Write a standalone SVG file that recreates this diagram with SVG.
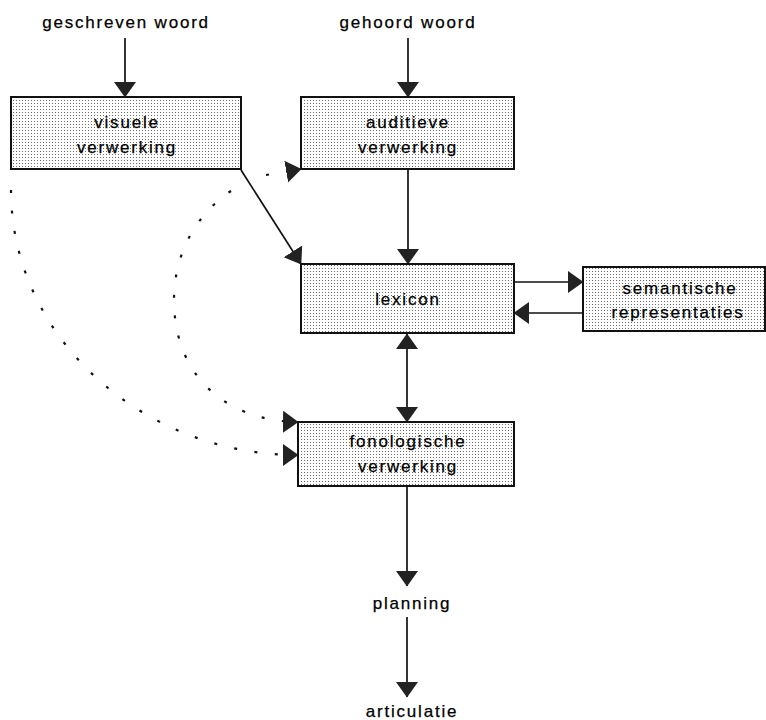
<svg xmlns="http://www.w3.org/2000/svg" width="766" height="720" viewBox="0 0 766 720">
<style>
  .box { fill: url(#dots); stroke: #111; stroke-width: 2; }
  .lbl { font-family: "Liberation Sans", Arial, sans-serif; font-size: 17px; letter-spacing: 1.8px; fill: #000; stroke: #000; stroke-width: 0.25; text-anchor: middle; }
  .conn { stroke: #111; stroke-width: 1.7; fill: none; }
  .dot { stroke: #111; stroke-width: 2.2; fill: none; stroke-dasharray: 3 17.5; }
</style>
<defs>
  <pattern id="dots" width="3" height="3" patternUnits="userSpaceOnUse">
    <rect width="3" height="3" fill="#ffffff"/>
    <rect x="1" y="1" width="1" height="1" fill="#6a6a6a"/>
  </pattern>
  <marker id="arr" markerUnits="userSpaceOnUse" markerWidth="16" markerHeight="23" refX="15" refY="11.5" orient="auto-start-reverse" viewBox="0 0 16 23">
    <path d="M0,0.5 L15.5,11.5 L0,22.5 z" fill="#222"/>
  </marker>
</defs>

<g id="connectors">
  <line class="conn" x1="125" y1="38" x2="125" y2="97" marker-end="url(#arr)"/>
  <line class="conn" x1="408" y1="38" x2="408" y2="97" marker-end="url(#arr)"/>
  <line class="conn" x1="408" y1="170" x2="408" y2="264" marker-end="url(#arr)"/>
  <line class="conn" x1="241" y1="170" x2="301" y2="264" marker-end="url(#arr)"/>
  <line class="conn" x1="515" y1="282" x2="583" y2="282" marker-end="url(#arr)"/>
  <line class="conn" x1="583" y1="313" x2="514" y2="313" marker-end="url(#arr)"/>
  <line class="conn" x1="407" y1="334" x2="407" y2="422" marker-start="url(#arr)" marker-end="url(#arr)"/>
  <line class="conn" x1="407" y1="487" x2="407" y2="586" marker-end="url(#arr)"/>
  <line class="conn" x1="407" y1="617" x2="407" y2="697" marker-end="url(#arr)"/>
  <path class="dot" d="M266,175 L301,169" marker-end="url(#arr)"/>
  <path class="dot" d="M231,191 C195,215 174,255 174,300 C174,375 225,421 298,422" marker-end="url(#arr)"/>
  <path class="dot" d="M11,190 C11,335 140,455 298,455" marker-end="url(#arr)"/>
</g>

<g id="in-geschreven"><text class="lbl" x="126" y="28">geschreven woord</text></g>
<g id="in-gehoord"><text class="lbl" x="408" y="28">gehoord woord</text></g>

<g id="visuele">
  <rect class="box" x="11" y="97" width="230" height="72"/>
  <text class="lbl" x="127" y="128">visuele</text>
  <text class="lbl" x="127" y="153">verwerking</text>
</g>
<g id="auditieve">
  <rect class="box" x="301" y="97" width="213" height="72"/>
  <text class="lbl" x="408" y="128">auditieve</text>
  <text class="lbl" x="408" y="153">verwerking</text>
</g>
<g id="lexicon">
  <rect class="box" x="301" y="264" width="213" height="69"/>
  <text class="lbl" x="408" y="305">lexicon</text>
</g>
<g id="semantische">
  <rect class="box" x="583" y="267" width="182" height="64"/>
  <text class="lbl" x="680" y="294">semantische</text>
  <text class="lbl" x="678" y="318">representaties</text>
</g>
<g id="fonologische">
  <rect class="box" x="298" y="422" width="216" height="64"/>
  <text class="lbl" x="408" y="447">fonologische</text>
  <text class="lbl" x="408" y="472">verwerking</text>
</g>
<g id="planning"><text class="lbl" x="412" y="609">planning</text></g>
<g id="articulatie"><text class="lbl" x="412" y="717">articulatie</text></g>
</svg>
